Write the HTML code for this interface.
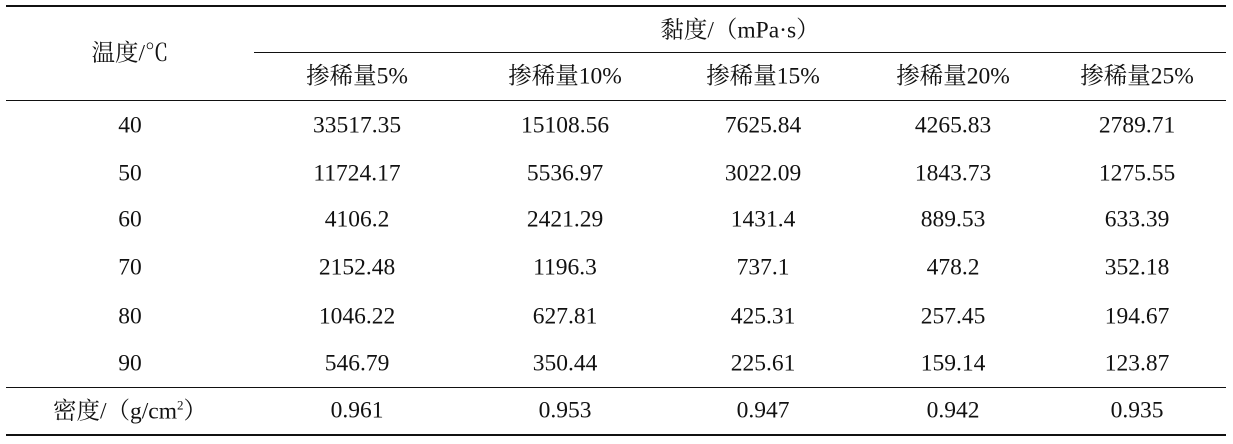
<!DOCTYPE html>
<html><head><meta charset="utf-8"><style>
body{margin:0;width:1233px;height:444px;background:#fff;position:relative;overflow:hidden;font-family:"Liberation Serif","Noto Serif CJK SC",serif;font-size:23.5px;color:#111}
.l{position:absolute;background:#111}
.t{position:absolute;transform:translate(-50%,-50%);white-space:nowrap;line-height:1}
</style></head><body>
<div class="l" style="left:6px;top:5px;width:1220px;height:2px"></div>
<div class="l" style="left:254px;top:52px;width:972px;height:1px"></div>
<div class="l" style="left:6px;top:100px;width:1220px;height:1px"></div>
<div class="l" style="left:6px;top:387px;width:1220px;height:1px"></div>
<div class="l" style="left:6px;top:434px;width:1220px;height:2px"></div>
<div class="t" style="left:130px;top:54px">温度/℃</div>
<div class="t" style="left:740px;top:31px">黏度/（mPa·s）</div>
<div id="c"></div>
<script>
var xs=[130,357,565,763,953,1137];
var rows=[
[77,["","掺稀量5%","掺稀量10%","掺稀量15%","掺稀量20%","掺稀量25%"]],
[126,["40","33517.35","15108.56","7625.84","4265.83","2789.71"]],
[174,["50","11724.17","5536.97","3022.09","1843.73","1275.55"]],
[220,["60","4106.2","2421.29","1431.4","889.53","633.39"]],
[268,["70","2152.48","1196.3","737.1","478.2","352.18"]],
[317,["80","1046.22","627.81","425.31","257.45","194.67"]],
[364,["90","546.79","350.44","225.61","159.14","123.87"]],
[411,["密度/（g/cm<sup style='font-size:13px;vertical-align:9px'>2</sup>）","0.961","0.953","0.947","0.942","0.935"]]];
var h="";rows.forEach(function(r){r[1].forEach(function(s,i){if(s)h+='<div class="t" style="left:'+xs[i]+'px;top:'+r[0]+'px">'+s+'</div>';});});
document.getElementById("c").innerHTML=h;
</script>
</body></html>
